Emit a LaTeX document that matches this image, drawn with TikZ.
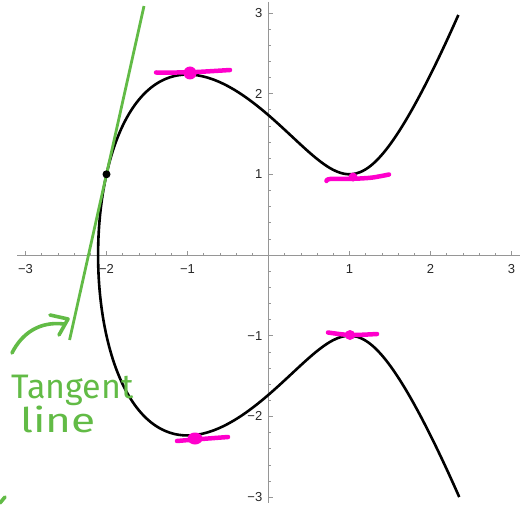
\documentclass[tikz,border=0pt]{standalone}
\usepackage{fontspec}
\usetikzlibrary{shapes.geometric}
\setmainfont{Liberation Sans}
\newfontfamily\handfont{Fira Sans}
\definecolor{hgreen}{RGB}{98,187,70}
\definecolor{hmag}{RGB}{255,0,204}
\definecolor{axisgray}{RGB}{150,150,150}
\begin{document}
\begin{tikzpicture}[x=1pt,y=-1pt,
  axisline/.style={axisgray,line width=0.8pt},
  tickmark/.style={axisgray,line width=0.6pt},
  ticklabel/.style={font=\fontsize{13}{15}\selectfont,text=black!85,inner sep=0pt},
  curve/.style={black,line width=2.6pt,line join=round},
  tangent/.style={hgreen,line width=2.8pt},
  hand/.style={hgreen,line width=3.6pt,line cap=round,line join=round},
  magstroke/.style={hmag,line width=4.5pt,line cap=round,line join=round},
  handtext/.style={text=hgreen,font=\handfont\fontsize{34}{36}\selectfont,inner sep=0pt},
  declare function={ff(\x)=\x*\x*\x-3*\x+3;}
]
\useasboundingbox (0,0) rectangle (524,505);
% axes
\coordinate (xaL) at (17,255);
\coordinate (xaR) at (520,255);
\coordinate (yaT) at (268.5,2);
\coordinate (yaB) at (268.5,503);
\draw[axisline] (xaL) -- (xaR);
\draw[axisline] (yaT) -- (yaB);
\begin{scope}[shift={(268.5,255)},x=81pt,y=80.7pt]
  % ticks
  \foreach \k in {-15,...,15}{
    \draw[tickmark] (\k/5,0) -- ++(0pt,2.5pt);
    \draw[tickmark] (0,\k/5) -- ++(2.5pt,0pt);
  }
  \foreach \k in {-3,...,3}{
    \draw[tickmark] (\k,0) -- ++(0pt,4.5pt);
    \draw[tickmark] (0,\k) -- ++(4.5pt,0pt);
  }
  % tick labels
  \foreach \k/\s in {-3/−3,-2/−2,-1/−1,1/1,2/2,3/3}{
    \node[ticklabel,anchor=center] (xl\k) at ([yshift=-14pt]\k,0) {\s};
    \node[ticklabel,anchor=east] (yl\k) at ([xshift=-6pt]0,\k) {\s};
  }
  % curve y^2 = x^3 - 3x + 3
  \draw[curve] plot[domain=-2.1116:2.1116,samples=301,smooth,variable=\t]
    ({-2.1038+\t*\t},{sign(\t)*sqrt(max(0,ff(-2.1038+\t*\t)))});
  % tangent line at (-2,1)
  \coordinate (tA) at (-1.537,3.085);
  \coordinate (tB) at (-2.456,-1.053);
  \draw[tangent] (tA) -- (tB);
  \node[circle,fill=black,inner sep=0pt,minimum size=8pt] (P) at (-2,1) {};
\end{scope}
% magenta annotations
\draw[magstroke] plot[smooth] coordinates {(156,72.5) (190,72.3) (230,70)};
\node[circle,fill=hmag,inner sep=0pt,minimum size=13pt] (m1) at (190,73) {};
\draw[magstroke] plot[smooth] coordinates {(326.5,181) (330,179) (353,178.8) (372,177.6) (389,174.5)};
\node[circle,fill=hmag,inner sep=0pt,minimum size=9pt] (m2) at (353,177) {};
\draw[magstroke] plot[smooth] coordinates {(328,332.5) (350,335) (377,334)};
\node[circle,fill=hmag,inner sep=0pt,minimum size=10pt] (m3) at (350,335) {};
\draw[magstroke] plot[smooth] coordinates {(177,441) (195,439.5) (228,437)};
\node[ellipse,fill=hmag,inner sep=0pt,minimum width=15pt,minimum height=12pt] (m4) at (195,438.5) {};
% green handwritten annotation
\coordinate (arS) at (12,353);
\coordinate (arE) at (64,324);
\coordinate (ahA) at (50,315);
\coordinate (ahB) at (68,319);
\coordinate (ahC) at (59,335);
\draw[hand] (arS) .. controls (22,333) and (40,321) .. (arE);
\draw[hand] (ahA) -- (ahB) -- (ahC);
\node[handtext,anchor=base west] (t1) at (11,398) {Tangent};
\node[handtext,anchor=base west,xscale=1.3] (t2) at (20,432) {line};
\coordinate (cA) at (0,503);
\coordinate (cB) at (5,497);
\draw[hand] (cA) -- (cB);
\end{tikzpicture}
\end{document}
